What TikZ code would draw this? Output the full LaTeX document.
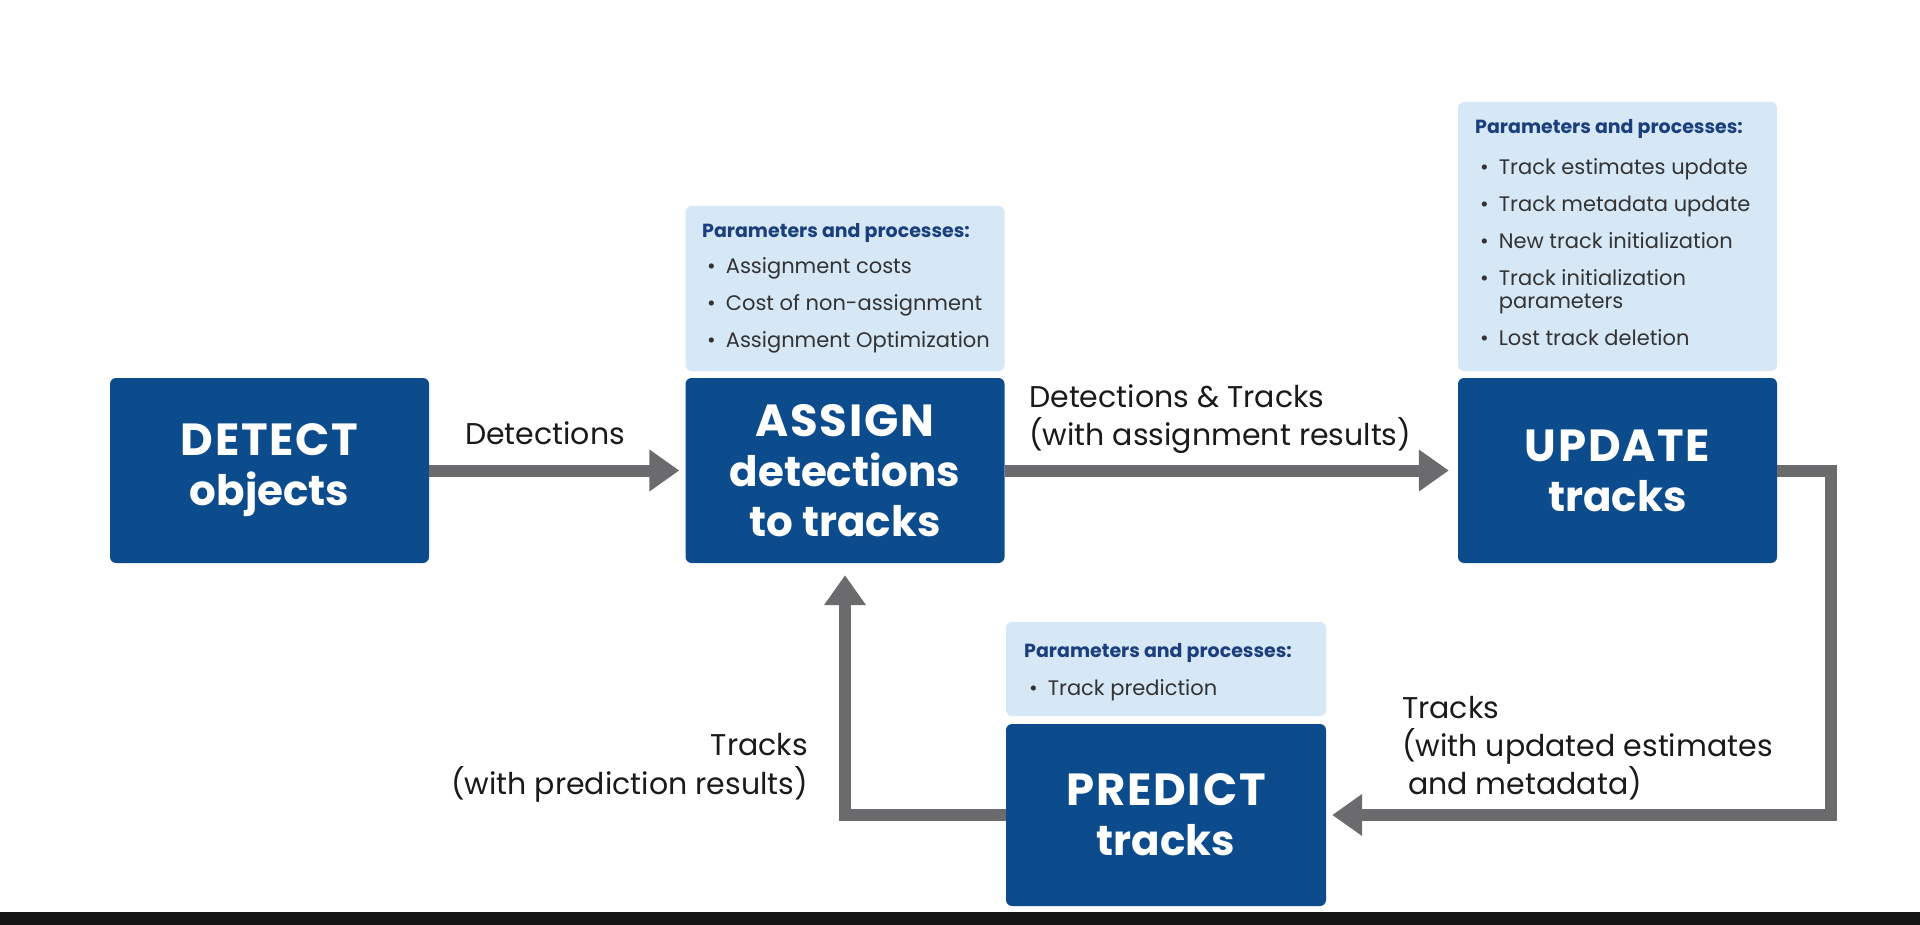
\documentclass[tikz,border=0pt]{standalone}
\usepackage{fontspec}
\setmainfont{Poppins}
\usetikzlibrary{arrows.meta}
\definecolor{boxblue}{HTML}{0C4B8C}
\definecolor{parblue}{HTML}{D6E7F6}
\definecolor{ttlblue}{HTML}{1B3F7C}
\definecolor{arrgray}{HTML}{6B6B6E}
\definecolor{txtdark}{HTML}{1A1A1A}
\definecolor{itemgray}{HTML}{333333}
\definecolor{barblack}{HTML}{151515}
\newcommand{\itmb}{\hspace*{5pt}\textbullet}
\newcommand{\partitle}{\multicolumn{2}{@{}l@{}}{\color{ttlblue}\bfseries\fontsize{19}{23}\selectfont Parameters and processes:}}
\newcommand{\capsw}[1]{{\fontsize{45}{50}\selectfont\addfontfeature{LetterSpace=4}#1}}
\tikzset{
  bluebox/.style={fill=boxblue, rounded corners=6pt, minimum width=319pt, minimum height=185pt,
    text=white, align=center, inner sep=0pt, font=\bfseries\fontsize{42}{50}\selectfont},
  parbox/.style={fill=parblue, rounded corners=6pt, minimum width=319pt, inner sep=0pt},
  partext/.style={anchor=base west, inner sep=0pt, text=itemgray, font=\fontsize{21}{23}\selectfont},
  lbl/.style={inner sep=0pt, text=txtdark, font=\fontsize{30}{38}\selectfont},
  arr/.style={line width=12pt, draw=arrgray, line join=miter, -{Triangle[length=30pt,width=40pt]}}
}
\begin{document}
\begin{tikzpicture}[x=1pt,y=-1pt]
\useasboundingbox (0,0) rectangle (1920,925);
\fill[white] (0,0) rectangle (1920,925);
\fill[barblack] (0,912) rectangle (1920,925);

% main boxes
\node[bluebox] (detect) at (269.5,470.5) {\capsw{DETECT}\\objects};
\node[bluebox] (assign) at (845,470.5) {\capsw{ASSIGN}\\detections\\to tracks};
\node[bluebox] (update) at (1617.5,470.5) {\capsw{UPDATE}\\tracks};
\node[bluebox, minimum width=320pt, minimum height=182pt] (predict) at (1166,815) {\capsw{PREDICT}\\tracks};

% parameter boxes
\node[parbox, minimum height=165pt] (assignp) at (845,288.5) {};
\node[parbox, minimum height=269pt] (updatep) at (1617.5,236.5) {};
\node[parbox, minimum width=320pt, minimum height=94pt] (predictp) at (1166,669) {};

\node[partext] (assignpt) at (702,238) {\begin{tabular}[t]{@{}l@{\hspace{10pt}}l@{}}
\partitle\\[13pt]
\itmb & Assignment costs\\[14pt]
\itmb & Cost of non-assignment\\[14pt]
\itmb & Assignment Optimization
\end{tabular}};

\node[partext] (updatept) at (1475,134) {\begin{tabular}[t]{@{}l@{\hspace{10pt}}l@{}}
\partitle\\[18pt]
\itmb & Track estimates update\\[14pt]
\itmb & Track metadata update\\[14pt]
\itmb & New track initialization\\[14pt]
\itmb & Track initialization\\
      & parameters\\[14pt]
\itmb & Lost track deletion
\end{tabular}};

\node[partext] (predictpt) at (1024,657) {\begin{tabular}[t]{@{}l@{\hspace{10pt}}l@{}}
\partitle\\[15pt]
\itmb & Track prediction
\end{tabular}};

% connector labels
\node[lbl] (l1) at (545,433) {Detections};
\node[lbl, anchor=north west, align=left] (l2) at (1029,384) {Detections \& Tracks\\(with assignment results)};
\node[lbl, anchor=north east, align=right, font=\fontsize{30}{39}\selectfont] (l3) at (808,733) {Tracks\\(with prediction results)};
\node[lbl, anchor=north west, align=left] (l4) at (1402,696) {Tracks\\(with updated estimates\\\hspace*{6pt}and metadata)};

% connectors
\coordinate (loopR) at (1831,470.5);
\draw[arr, shorten >=6pt] (detect.east) -- (assign.west);
\draw[arr, shorten >=9pt] (assign.east) -- (update.west);
\draw[arr, shorten >=6pt] (update.east) -- (loopR) |- (predict.east);
\draw[arr, shorten >=12pt] (predict.west) -| (assign.south);
\end{tikzpicture}
\end{document}
